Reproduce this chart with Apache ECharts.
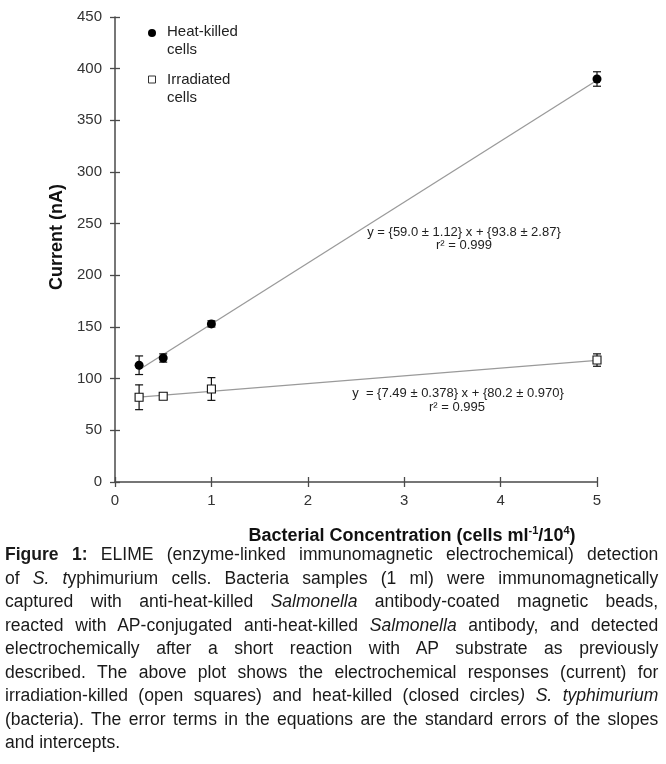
<!DOCTYPE html>
<html>
<head>
<meta charset="utf-8">
<script src="https://cdn.jsdelivr.net/npm/echarts@6/dist/echarts.min.js"></script>
<style>
  html, body { margin: 0; padding: 0; background: #fff; }
  #chart { position: absolute; left: 0; top: 0; width: 666px; height: 545px; }
  #caption {
    position: absolute; left: 5px; top: 543px; width: 670px;
    transform: scaleX(0.975); transform-origin: left top;
    font-family: "Liberation Sans", Arial, sans-serif; font-size: 18px;
    line-height: 23.5px; color: #1a1a1a;
  }
  #caption div { text-align: justify; text-align-last: justify; white-space: nowrap; }
  #caption div.last { text-align: left; text-align-last: left; }
</style>
</head>
<body>
<div id="chart"></div>
<div id="caption">
  <div><b>Figure 1:</b> ELIME (enzyme-linked immunomagnetic electrochemical) detection</div>
  <div>of <i>S. t</i>yphimurium cells. Bacteria samples (1 ml) were immunomagnetically</div>
  <div>captured with anti-heat-killed <i>Salmonella</i> antibody-coated magnetic beads,</div>
  <div>reacted with AP-conjugated anti-heat-killed <i>Salmonella</i> antibody, and detected</div>
  <div>electrochemically after a short reaction with AP substrate as previously</div>
  <div>described. The above plot shows the electrochemical responses (current) for</div>
  <div>irradiation-killed (open squares) and heat-killed (closed circles<i>) S. typhimurium</i></div>
  <div>(bacteria). The error terms in the equations are the standard errors of the slopes</div>
  <div class="last">and intercepts.</div>
</div>
<script>
// ---- data ----
const concentrations = [0.25, 0.5, 1, 5];
const heatKilled = [113, 120, 153, 390];
const heatKilledErr = [9, 4, 3, 7];
const irradiated = [82, 83, 90, 118];
const irradiatedErr = [12, 3, 11, 6];
const fitX = [0.25, 5];
const heatFit = [108.6, 388.8];
const irradiatedFit = [82.1, 117.7];
const xTicks = [0, 1, 2, 3, 4, 5];
const yTicks = [0, 50, 100, 150, 200, 250, 300, 350, 400, 450];
const heatEquation = 'y = {59.0 \u00b1 1.12} x + {93.8 \u00b1 2.87}';
const heatR2 = 'r\u00b2 = 0.999';
const irrEquation = 'y  = {7.49 \u00b1 0.378} x + {80.2 \u00b1 0.970}';
const irrR2 = 'r\u00b2 = 0.995';

const FONT = '"Liberation Sans", Arial, sans-serif';
const AXIS = '#4a4a4a';

function errData(vals, errs) {
  return concentrations.map((x, i) => [x, vals[i] - errs[i], vals[i] + errs[i]]);
}
function errRender(params, api) {
  const x = api.value(0);
  const lo = api.coord([x, api.value(1)]);
  const hi = api.coord([x, api.value(2)]);
  const w = 4;
  const st = { stroke: '#111', lineWidth: 1.2 };
  return {
    type: 'group',
    children: [
      { type: 'line', shape: { x1: lo[0], y1: lo[1], x2: hi[0], y2: hi[1] }, style: st },
      { type: 'line', shape: { x1: lo[0] - w, y1: lo[1], x2: lo[0] + w, y2: lo[1] }, style: st },
      { type: 'line', shape: { x1: hi[0] - w, y1: hi[1], x2: hi[0] + w, y2: hi[1] }, style: st }
    ]
  };
}

const chart = echarts.init(document.getElementById('chart'), null, { renderer: 'canvas' });
const tickStyle = { color: AXIS, width: 1.3 };
const option = {
  animation: false,
  backgroundColor: 'transparent',
  textStyle: { fontFamily: FONT },
  grid: { left: 115, right: 69, top: 17, bottom: 63 },
  xAxis: [
    {
      type: 'value', min: xTicks[0], max: xTicks[xTicks.length - 1], interval: 1,
      axisLine: { onZero: false, lineStyle: { color: AXIS, width: 1.5 } },
      axisTick: { length: 5, lineStyle: tickStyle },
      axisLabel: { fontSize: 15, color: '#333', margin: 11, fontFamily: FONT },
      splitLine: { show: false }
    },
    {
      type: 'value', position: 'bottom', min: xTicks[0], max: xTicks[xTicks.length - 1], interval: 1,
      axisLine: { show: false },
      axisTick: { inside: true, length: 5, lineStyle: tickStyle },
      axisLabel: { show: false }, splitLine: { show: false }
    }
  ],
  yAxis: [
    {
      type: 'value', min: yTicks[0], max: yTicks[yTicks.length - 1], interval: 50,
      axisLine: { show: true, onZero: false, lineStyle: { color: AXIS, width: 1.5 } },
      axisTick: { show: true, length: 5, lineStyle: tickStyle },
      axisLabel: { fontSize: 15, color: '#333', margin: 13, fontFamily: FONT },
      splitLine: { show: false }
    },
    {
      type: 'value', position: 'left', min: yTicks[0], max: yTicks[yTicks.length - 1], interval: 50,
      axisLine: { show: false },
      axisTick: { show: true, inside: true, length: 5, lineStyle: tickStyle },
      axisLabel: { show: false }, splitLine: { show: false }
    }
  ],
  series: [
    {
      name: 'Heat-killed fit', type: 'line', silent: true, symbol: 'none',
      data: fitX.map((x, i) => [x, heatFit[i]]),
      lineStyle: { color: '#9a9a9a', width: 1.3 }, z: 1
    },
    {
      name: 'Irradiated fit', type: 'line', silent: true, symbol: 'none',
      data: fitX.map((x, i) => [x, irradiatedFit[i]]),
      lineStyle: { color: '#9a9a9a', width: 1.3 }, z: 1
    },
    {
      name: 'Heat-killed error', type: 'custom', renderItem: errRender,
      data: errData(heatKilled, heatKilledErr), encode: { x: 0, y: [1, 2] }, z: 2
    },
    {
      name: 'Irradiated error', type: 'custom', renderItem: errRender,
      data: errData(irradiated, irradiatedErr), encode: { x: 0, y: [1, 2] }, z: 2
    },
    {
      name: 'Heat-killed cells', type: 'scatter', symbol: 'circle', symbolSize: 9,
      data: concentrations.map((x, i) => [x, heatKilled[i]]),
      itemStyle: { color: '#000', opacity: 1 }, z: 3
    },
    {
      name: 'Irradiated cells', type: 'scatter', symbol: 'rect', symbolSize: 8,
      data: concentrations.map((x, i) => [x, irradiated[i]]),
      itemStyle: { color: '#fff', borderColor: '#111', borderWidth: 1.1, opacity: 1 }, z: 3
    }
  ],
  graphic: [
    // legend
    { type: 'circle', shape: { cx: 152, cy: 33, r: 4 }, style: { fill: '#000' } },
    { type: 'text', x: 167, y: 32, style: { text: 'Heat-killed', font: '15px ' + FONT, fill: '#222', textVerticalAlign: 'middle' } },
    { type: 'text', x: 167, y: 50, style: { text: 'cells', font: '15px ' + FONT, fill: '#222', textVerticalAlign: 'middle' } },
    { type: 'rect', shape: { x: 148.5, y: 76, width: 7, height: 7 }, style: { fill: '#fff', stroke: '#333', lineWidth: 1 } },
    { type: 'text', x: 167, y: 80, style: { text: 'Irradiated', font: '15px ' + FONT, fill: '#222', textVerticalAlign: 'middle' } },
    { type: 'text', x: 167, y: 98, style: { text: 'cells', font: '15px ' + FONT, fill: '#222', textVerticalAlign: 'middle' } },
    // equations
    { type: 'text', x: 464, y: 232, style: { text: heatEquation, font: '13px ' + FONT, fill: '#222', textAlign: 'center', textVerticalAlign: 'middle' } },
    { type: 'text', x: 464, y: 245, style: { text: heatR2, font: '13px ' + FONT, fill: '#222', textAlign: 'center', textVerticalAlign: 'middle' } },
    { type: 'text', x: 458, y: 393, style: { text: irrEquation, font: '13px ' + FONT, fill: '#222', textAlign: 'center', textVerticalAlign: 'middle' } },
    { type: 'text', x: 457, y: 407, style: { text: irrR2, font: '13px ' + FONT, fill: '#222', textAlign: 'center', textVerticalAlign: 'middle' } },
    // axis titles
    {
      type: 'text', x: 57, y: 237, rotation: Math.PI / 2,
      style: { text: 'Current (nA)', font: 'bold 18px ' + FONT, fill: '#111', textAlign: 'center', textVerticalAlign: 'middle' }
    },
    {
      type: 'text', x: 412, y: 536,
      style: {
        text: '{b|Bacterial Concentration (cells ml}{s|-1}{b|/10}{s|4}{b|)}',
        textAlign: 'center', textVerticalAlign: 'middle', fill: '#111',
        rich: {
          b: { fontSize: 18, fontWeight: 'bold', fontFamily: FONT, lineHeight: 22, fill: '#111' },
          s: { fontSize: 11, fontWeight: 'bold', fontFamily: FONT, lineHeight: 12, verticalAlign: 'top', fill: '#111' }
        }
      }
    }
  ]
};
chart.setOption(option);
</script>
</body>
</html>
